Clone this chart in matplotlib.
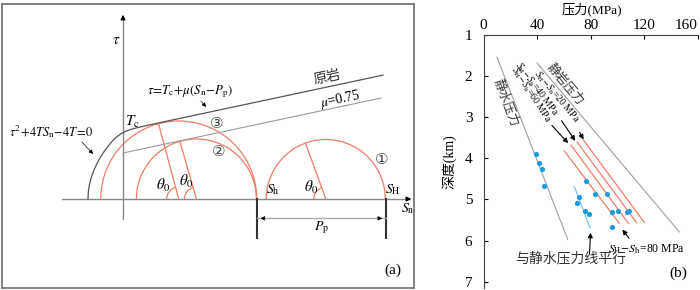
import numpy as np
import matplotlib
matplotlib.use('Agg')
import matplotlib.pyplot as plt
from matplotlib.patches import Arc

plt.rcParams['font.family'] = ['Liberation Serif', 'Noto Sans CJK SC', 'DejaVu Sans']
plt.rcParams['mathtext.fontset'] = 'stix'

# ---------- (b) 压力-深度 数据 ----------
press_ticks = [0, 40, 80, 120, 160]
depth_ticks = [1, 2, 3, 4, 5, 6, 7]
hydro_p = [10.1, 62.8]          # 静水压力线
hydro_d = [1.54, 5.97]
litho_p = [39.9, 146.1]         # 静岩压力线
litho_d = [1.68, 5.79]
diff_mpa = [80, 60, 40, 20]     # SH-Sh
diff_top_p = [60.3, 65.3, 69.8, 74.5]
diff_top_d = [3.82, 3.68, 3.60, 3.55]
diff_bot_p = [101.3, 108.1, 114.3, 120.0]
diff_bot_d = [5.58, 5.58, 5.57, 5.56]
meas_p = [39.4, 41.6, 43.7, 45.4, 76.3, 71.5, 69.8, 83.4, 92.2, 76.0, 78.7,
          95.9, 100.6, 106.9, 108.4, 95.9]
meas_d = [3.90, 4.12, 4.26, 4.67, 4.56, 4.95, 5.08, 4.88, 4.87, 5.29, 5.36,
          5.31, 5.27, 5.31, 5.28, 5.68]
par_p = [67.8, 79.5]            # 与静水压力线平行
par_d = [4.69, 5.69]

# ---------- (a) 示意图参数 ----------
T = 35.0            # 抗张强度
Tc = 68.5
mu_k = 0.213        # 示意斜率
b075 = 46.0         # mu=0.75 线截距
sn_end = 260
circ_c = [202.8, 73.4, 55.7]
circ_r = [59.5, 60.0, 78.0]
circ_ang = [110, 106, 105]
circ_lbl = ['①', '②', '③']
Sh, SH = 133.7, 263.0

red = '#f07d68'
fig = plt.figure(figsize=(7, 2.9), dpi=100)

# ================= (a) =================
ax = fig.add_axes([1.5 / 700, 2 / 290, 412.5 / 700, 284 / 290])
ax.set_xlim(-121.5, 291)
ax.set_ylim(-89, 195)
ax.set_xticks([])
ax.set_yticks([])
for s in ax.spines.values():
    s.set_color('#777777')
    s.set_linewidth(1.3)

# 坐标轴
ax.plot([-61, 286], [0, 0], color='#888888', lw=1.0)
ax.annotate('', xy=(291, 0), xytext=(282, 0),
            arrowprops=dict(arrowstyle='-|>', color='k', lw=0.8, mutation_scale=7))
ax.plot([0, 0], [-20, 180], color='#888888', lw=1.0)
ax.annotate('', xy=(0, 187), xytext=(0, 178),
            arrowprops=dict(arrowstyle='-|>', color='k', lw=0.8, mutation_scale=7))

# 包络线
sn = np.linspace(-T, sn_end, 800)
para = np.sqrt(4 * T * (sn + T))
lin = Tc + mu_k * sn
k = 4.0
env = -k * np.log(np.exp(-para / k) + np.exp(-lin / k))
ax.plot(sn, env, color='#555555', lw=0.9)
ax.plot([0, 258], [b075, b075 + mu_k * 258], color='#9a9a9a', lw=0.8)

# 莫尔圆
for c, r, a, lbl in zip(circ_c, circ_r, circ_ang, circ_lbl):
    ax.add_patch(Arc((c, 0), 2 * r, 2 * r, theta1=0, theta2=180, color=red, lw=0.9))
    ang = np.deg2rad(a)
    ax.plot([c, c + r * np.cos(ang)], [0, r * np.sin(ang)], color=red, lw=0.9)
    ax.add_patch(Arc((c, 0), 24, 24, theta1=a, theta2=180, color=red, lw=0.9))

# Pp
ax.plot([Sh, Sh], [0, -39], color='#333333', lw=1.5)
ax.plot([SH, SH], [0, -39], color='#333333', lw=1.5)
ax.plot([Sh, SH], [-19.3, -19.3], color='#aaaaaa', lw=1.0)
ax.annotate('', xy=(Sh + 1, -19.3), xytext=(Sh + 9, -19.3),
            arrowprops=dict(arrowstyle='-|>', color='k', lw=0.6, mutation_scale=6))
ax.annotate('', xy=(SH - 1, -19.3), xytext=(SH - 9, -19.3),
            arrowprops=dict(arrowstyle='-|>', color='k', lw=0.6, mutation_scale=6))

# 文字
ax.text(-7, 158, r'$\tau$', fontsize=11, ha='center', va='center')
ax.text(9, 77, r'$T_\mathrm{c}$', fontsize=11, ha='center', va='center')
ax.text(67, 107, r'$\tau\!=\!T_\mathrm{c}\!+\!\mu(S_\mathrm{n}\!-\!P_\mathrm{p})$',
        fontsize=9.3, ha='center', va='center')
ax.annotate('', xy=(85, 90), xytext=(76, 100),
            arrowprops=dict(arrowstyle='-|>', color='k', lw=0.5, mutation_scale=6))
ax.text(-72, 67, r'$\tau^2\!+\!4TS_\mathrm{n}\!-\!4T\!=\!0$', fontsize=9,
        ha='center', va='center')
ax.annotate('', xy=(-28, 43), xytext=(-43, 59),
            arrowprops=dict(arrowstyle='-|>', color='k', lw=0.5,
                            mutation_scale=6))
lbl_xy = [(259, 39), (96, 47), (94, 76)]
for (x, y), lbl in zip(lbl_xy, circ_lbl):
    ax.text(x, y, lbl, fontsize=11, ha='center', va='center', color='#444444',
            family=['DejaVu Sans'])
ax.text(204, 121, '原岩', fontsize=10, ha='center', va='center', rotation=12,
        color='#333333')
ax.text(217, 100, r'$\mu$=0.75', fontsize=10, ha='center', va='center', rotation=12)
for x, y in [(40, 14), (63, 18), (188, 12)]:
    ax.text(x, y, r'$\theta_0$', fontsize=11, ha='center', va='center')
ax.text(150, 9, r'$S_\mathrm{h}$', fontsize=10, ha='center', va='center')
ax.text(270, 9, r'$S_\mathrm{H}$', fontsize=10, ha='center', va='center')
ax.text(285, -10, r'$S_\mathrm{n}$', fontsize=10, ha='center', va='center')
ax.text(199, -29, r'$P_\mathrm{p}$', fontsize=10, ha='center', va='center')
ax.text(270, -71, '(a)', fontsize=11, ha='center', va='center')

# ================= (b) =================
axb = fig.add_axes([483.5 / 700, 2 / 290, 214.4 / 700, 253 / 290])
axb.set_xlim(0, 160)
axb.set_ylim(7.155, 1)
axb.xaxis.tick_top()
axb.set_xticks(press_ticks)
axb.set_yticks(depth_ticks)
axb.tick_params(axis='x', direction='in', length=3, labelsize=11, pad=2)
axb.tick_params(axis='y', direction='in', length=3, labelsize=11, pad=8)
axb.get_xticklabels()[-1].set_ha('right')
axb.spines['right'].set_visible(False)
axb.spines['bottom'].set_visible(False)
for s in ['left', 'top']:
    axb.spines[s].set_color('#444444')
axb.set_xlabel('压力(MPa)', fontsize=9.5)
axb.xaxis.set_label_position('top')
axb.xaxis.label.set_va('center')
axb.xaxis.set_label_coords(0.506, 1.1)
axb.set_ylabel('深度(km)', fontsize=10, va='center')
axb.yaxis.set_label_coords(-0.16, 0.5)

axb.plot(hydro_p, hydro_d, color='#a0a0a0', lw=0.8)
axb.plot(litho_p, litho_d, color='#a0a0a0', lw=0.8)
for i in range(len(diff_mpa)):
    axb.plot([diff_top_p[i], diff_bot_p[i]], [diff_top_d[i], diff_bot_d[i]],
             color=red, lw=0.9)
axb.plot(par_p, par_d, color='#7cc4ec', lw=0.9)
axb.scatter(meas_p, meas_d, s=14, color='#1b9ae0', zorder=3, linewidths=0)

axb.text(16.8, 2.65, '静水压力', fontsize=9, rotation=-69, ha='center', va='center',
         color='#333333')
axb.text(60.8, 2.20, '静岩压力', fontsize=9, rotation=-50, ha='center', va='center',
         color='#333333')
lab_xy = [(54.1, 2.51, -50), (39.7, 2.31, -53), (35.3, 2.46, -57)]
for (x, y, rot), v in zip(lab_xy, diff_mpa[::-1][:3]):
    axb.text(x, y, r'$S_\mathrm{H}\!-\!S_\mathrm{h}$=%d MPa' % v, fontsize=7,
             rotation=rot, ha='center', va='center', rotation_mode='anchor')
arr_from = [(70.7, 3.31), (57.1, 3.03), (49.6, 3.15), (109.9, 6.00), (79.0, 6.39)]
arr_to = [(75.7, 3.60), (69.6, 3.63), (64.6, 3.68), (102.4, 5.68), (80.0, 5.74)]
for a0, a1 in zip(arr_from, arr_to):
    axb.annotate('', xy=a1, xytext=a0,
                 arrowprops=dict(arrowstyle='-|>', color='k', lw=0.8,
                                 mutation_scale=7))
axb.text(121.8, 6.21, r'$S_\mathrm{H}\!-\!S_\mathrm{h}$=80 MPa', fontsize=8.5,
         ha='center', va='center')
axb.text(65.3, 6.43, '与静水压力线平行', fontsize=10, ha='center', va='center',
         color='#333333')
axb.text(145.1, 6.79, '(b)', fontsize=11, ha='center', va='center')

fig.savefig('out.png', dpi=100)
